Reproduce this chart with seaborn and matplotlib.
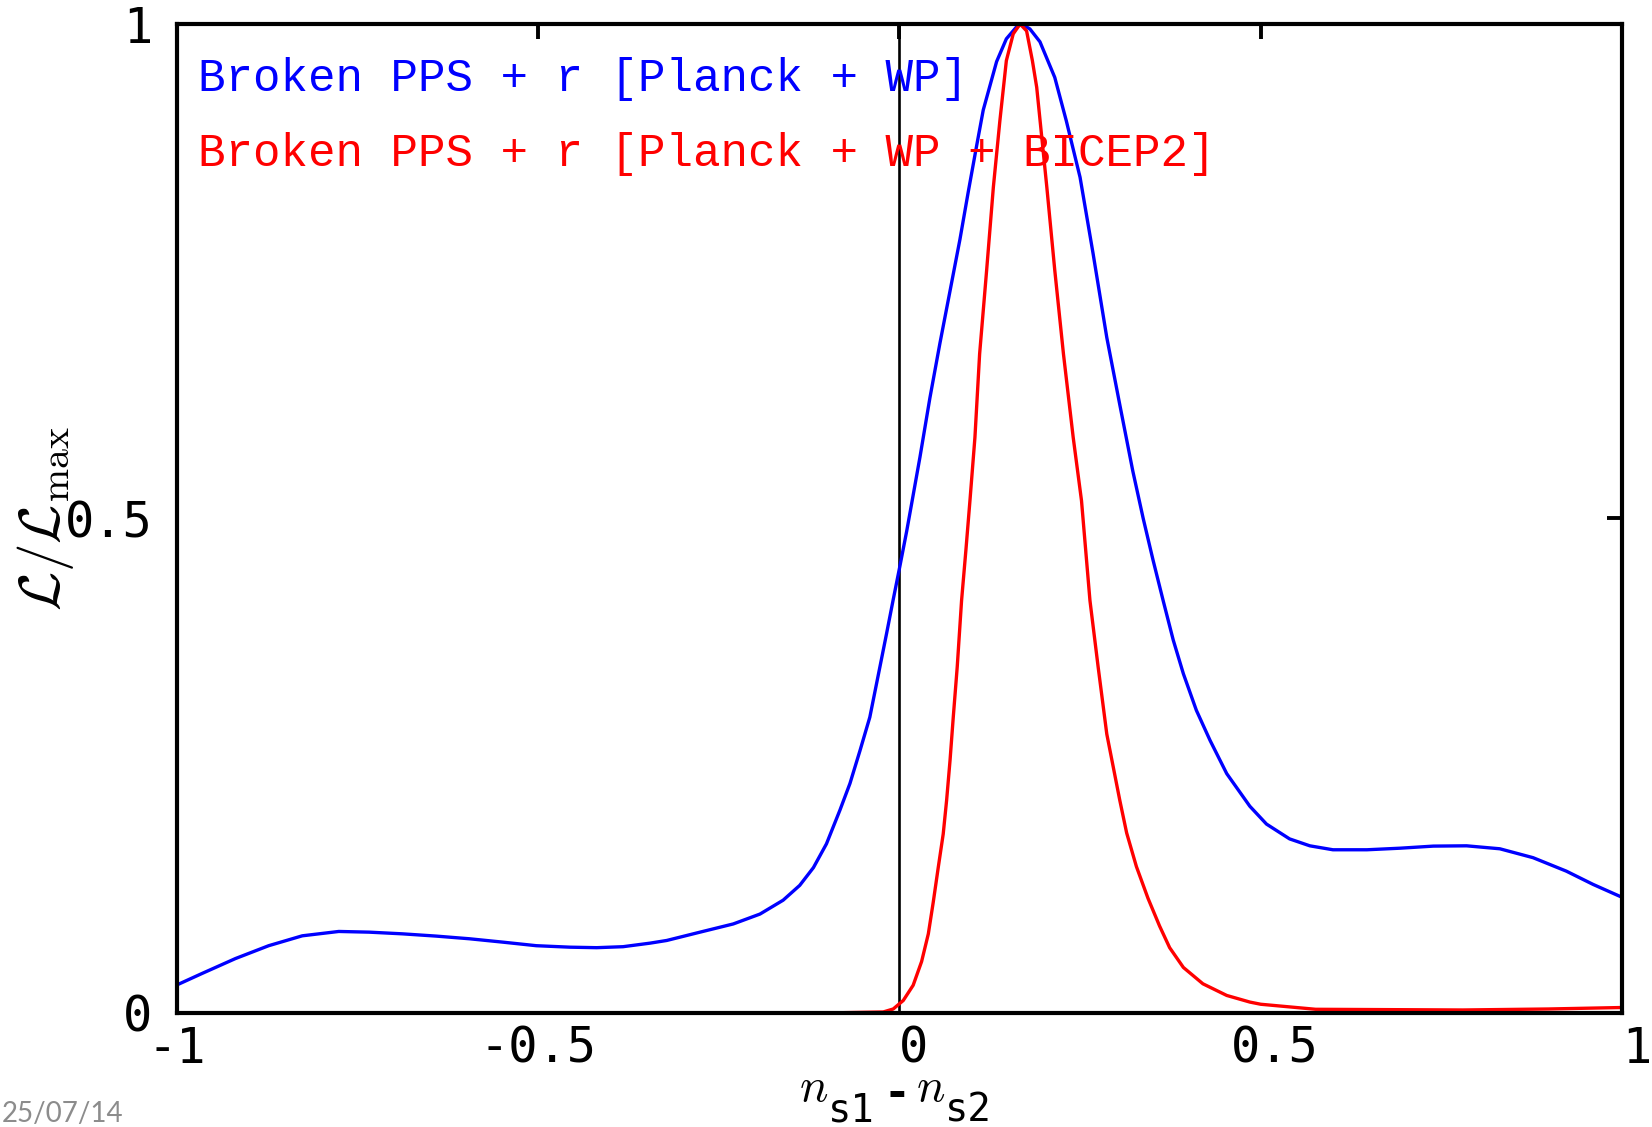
import numpy as np
import pandas as pd
import matplotlib
matplotlib.use("Agg")
import matplotlib.pyplot as plt
import matplotlib.transforms as mtransforms
import seaborn as sns

# ---- data ----
blue_x = [-0.998, -0.965, -0.919, -0.873, -0.8265, -0.776, -0.734, -0.688, -0.641, -0.595,
          -0.549, -0.5026, -0.456, -0.419, -0.3825, -0.345, -0.322, -0.276, -0.230, -0.193,
          -0.161, -0.138, -0.119, -0.101, -0.0824, -0.0685, -0.0547, -0.041, -0.027, -0.0177,
          -0.0086, 0.0007, 0.010, 0.0169, 0.0284, 0.0422, 0.056, 0.070, 0.0837, 0.0952,
          0.107, 0.116, 0.1345, 0.148, 0.162, 0.169, 0.1806, 0.1945, 0.215, 0.231,
          0.250, 0.268, 0.287, 0.305, 0.323, 0.3374, 0.351, 0.365, 0.379, 0.393,
          0.411, 0.430, 0.453, 0.485, 0.508, 0.540, 0.568, 0.600, 0.647, 0.693,
          0.739, 0.785, 0.831, 0.877, 0.923, 0.960, 1.000]
blue_y = [0.029, 0.040, 0.055, 0.068, 0.078, 0.0824, 0.0817, 0.080, 0.0777, 0.075,
          0.0716, 0.068, 0.0665, 0.066, 0.067, 0.0706, 0.0733, 0.0817, 0.090, 0.100,
          0.114, 0.129, 0.147, 0.171, 0.205, 0.232, 0.265, 0.299, 0.350, 0.384,
          0.418, 0.452, 0.487, 0.515, 0.562, 0.622, 0.677, 0.730, 0.782, 0.830,
          0.8775, 0.913, 0.962, 0.985, 0.997, 1.000, 0.995, 0.982, 0.946, 0.902,
          0.845, 0.768, 0.683, 0.615, 0.548, 0.500, 0.458, 0.417, 0.377, 0.343,
          0.306, 0.2755, 0.242, 0.209, 0.191, 0.176, 0.169, 0.165, 0.165, 0.1666,
          0.1687, 0.169, 0.166, 0.157, 0.1434, 0.130, 0.117]

red_x = [-1.00, -0.10, -0.0224, -0.0086, 0.0053, 0.019, 0.0307, 0.040, 0.0468, 0.0537,
         0.0606, 0.0653, 0.070, 0.0745, 0.080, 0.086, 0.092, 0.0976, 0.1045, 0.111,
         0.1207, 0.130, 0.139, 0.148, 0.1575, 0.167, 0.176, 0.184, 0.190, 0.197,
         0.204, 0.215, 0.227, 0.2405, 0.252, 0.2637, 0.275, 0.287, 0.296, 0.305,
         0.3145, 0.328, 0.344, 0.360, 0.374, 0.393, 0.420, 0.453, 0.485, 0.50,
         0.576, 0.78, 0.898, 1.00]
red_y = [0.000, 0.000, 0.001, 0.004, 0.0126, 0.028, 0.052, 0.080, 0.112, 0.147,
         0.181, 0.215, 0.255, 0.299, 0.350, 0.417, 0.468, 0.518, 0.582, 0.6665,
         0.751, 0.835, 0.902, 0.963, 0.990, 1.000, 0.993, 0.963, 0.936, 0.8855,
         0.835, 0.751, 0.6665, 0.582, 0.518, 0.417, 0.350, 0.282, 0.2485, 0.215,
         0.182, 0.148, 0.116, 0.088, 0.066, 0.046, 0.0295, 0.0177, 0.011, 0.0088,
         0.0037, 0.003, 0.004, 0.0055]

x_ticks = [-1, -0.5, 0, 0.5, 1]
x_ticklabels = ["-1", "-0.5", "0", "0.5", "1"]
y_ticks = [0, 0.5, 1]
y_ticklabels = ["0", "0.5", "1"]

label_blue = "Broken PPS + r [Planck + WP]"
label_red = "Broken PPS + r [Planck + WP + BICEP2]"
date_text = "25/07/14"

# ---- style ----
sns.set_style("white")
plt.rcParams["font.family"] = ["DejaVu Sans Mono", "DejaVu Sans"]
plt.rcParams["mathtext.fontset"] = "cm"

W, H = 1652, 1127
fig = plt.figure(figsize=(W / 100, H / 100), dpi=100)
ax = fig.add_axes([0.1071, 0.1012, 0.8747, 0.8775])

df_b = pd.DataFrame({"x": blue_x, "y": blue_y})
df_r = pd.DataFrame({"x": red_x, "y": red_y})

ax.axvline(0, color="black", lw=1.9, zorder=1)
sns.lineplot(data=df_b, x="x", y="y", ax=ax, color="#0000ff", lw=2.4,
             sort=False, estimator=None, zorder=3)
sns.lineplot(data=df_r, x="x", y="y", ax=ax, color="#ff0000", lw=2.4,
             sort=False, estimator=None, zorder=3)

ax.set_xlim(-1, 1)
ax.set_ylim(0, 1)
ax.set_xticks(x_ticks)
ax.set_xticklabels(x_ticklabels)
ax.set_yticks(y_ticks)
ax.set_yticklabels(y_ticklabels)

ax.tick_params(axis="both", which="major", direction="in", length=11, width=2.8,
               top=True, right=True, labelsize=35, color="black",
               labelcolor="black")
ax.tick_params(axis="x", pad=8.5)
ax.tick_params(axis="y", pad=17.5)

# non-negative labels sit half a character to the right (sign-aligned)
shift = mtransforms.ScaledTranslation(0.145, 0, fig.dpi_scale_trans)
for val, lab in zip(x_ticks, ax.get_xticklabels()):
    if val >= 0:
        lab.set_transform(lab.get_transform() + shift)

for s in ax.spines.values():
    s.set_linewidth(3.0)
    s.set_color("black")
    s.set_zorder(5)

ax.set_xlabel("")
ax.set_ylabel(r"$\mathcal{L}/\mathcal{L}_{\rm max}$", fontsize=41, color="black")
ax.yaxis.set_label_coords(-0.070, 0.50)

# x label assembled: n (CM italic) with monospace subscripts
def fx(px):
    return px / W

def fy(py):
    return (H - py) / H

fig.text(fx(799), fy(1101), r"$n$", fontsize=34, ha="left", va="baseline", color="black")
fig.text(fx(828), fy(1122), "s1", fontsize=28, family=["DejaVu Sans Mono"],
         ha="left", va="baseline", color="black")
fig.text(fx(897), fy(1107), "-", fontsize=32, family=["DejaVu Sans Mono"],
         fontweight="bold", ha="center", va="baseline", color="black")
fig.text(fx(916), fy(1101), r"$n$", fontsize=34, ha="left", va="baseline", color="black")
fig.text(fx(945), fy(1122), "s2", fontsize=28, family=["DejaVu Sans Mono"],
         ha="left", va="baseline", color="black")

ax.text(0.0145, 0.944, label_blue, transform=ax.transAxes, color="#0000ff",
        fontsize=33, family=["Liberation Mono"], va="center", ha="left", zorder=6)
ax.text(0.0145, 0.869, label_red, transform=ax.transAxes, color="#ff0000",
        fontsize=33, family=["Liberation Mono"], va="center", ha="left", zorder=6)

fig.text(0.001, 0.004, date_text, color="#8c8c8c", fontsize=20,
         family=["Lato"], ha="left", va="baseline")

fig.savefig("out.png", dpi=100)
